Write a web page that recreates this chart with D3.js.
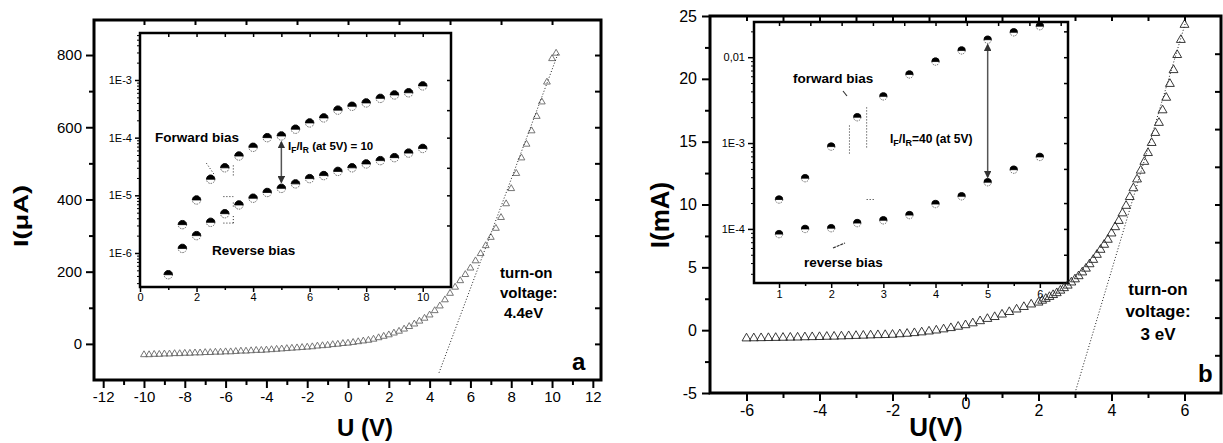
<!DOCTYPE html>
<html>
<head>
<meta charset="utf-8">
<script src="https://cdn.jsdelivr.net/npm/d3@7"></script>
<style>body{margin:0;background:#fff}</style>
</head>
<body>
<script>
const FONT = "'Liberation Sans', Arial, sans-serif";

// ---- panel a: main I-U curve (uA in V, iA in microampere) ----
const uA = [-10, -9.75, -9.5, -9.25, -9, -8.75, -8.5, -8.25, -8, -7.75,
    -7.5, -7.25, -7, -6.75, -6.5, -6.25, -6, -5.75, -5.5, -5.25,
    -5, -4.75, -4.5, -4.25, -4, -3.75, -3.5, -3.25, -3, -2.75,
    -2.5, -2.25, -2, -1.75, -1.5, -1.25, -1, -0.75, -0.5, -0.25,
    0, 0.25, 0.5, 0.75, 1, 1.25, 1.5, 1.75, 2, 2.25,
    2.5, 2.75, 3, 3.25, 3.5, 3.75, 4, 4.25, 4.5, 4.75,
    5, 5.25, 5.5, 5.75, 6, 6.25, 6.5, 6.75, 7, 7.25,
    7.5, 7.75, 8, 8.25, 8.5, 8.75, 9, 9.25, 9.5, 9.75, 10, 10.2];
const iA = [-30, -30, -29, -29, -28, -28, -27, -27, -26, -26,
    -25, -25, -24, -24, -23, -23, -22, -22, -21, -20,
    -20, -19, -18, -18, -17, -16, -15, -14, -13, -12,
    -11, -10, -9, -8, -6, -5, -4, -2, -1, 1,
    2, 4, 6, 8, 10, 13, 17, 21, 25, 30,
    35, 41, 48, 55, 63, 71, 80, 92, 105, 122,
    140, 157, 175, 192, 210, 230, 250, 272, 295, 320,
    350, 388, 430, 472, 515, 553, 590, 630, 670, 725, 790, 805];
const tangentA = [[4.46, -80], [10.3, 805]];

// panel a inset (log current, A)
const insetFwdUA = [1.5, 2, 2.5, 3, 3.5, 4, 4.5, 5, 5.5, 6, 6.5, 7, 7.5, 8, 8.5, 9, 9.5, 10];
const insetFwdIA = [3.1e-6, 8.3e-6, 1.9e-5, 3.0e-5, 4.8e-5, 6.8e-5, 1.0e-4, 1.07e-4, 1.4e-4,
    1.8e-4, 2.2e-4, 3.0e-4, 3.5e-4, 4.0e-4, 4.8e-4, 5.5e-4, 6.0e-4, 7.9e-4];
const insetRevUA = [1, 1.5, 2, 2.5, 3, 3.5, 4, 4.5, 5, 5.5, 6, 6.5, 7, 7.5, 8, 8.5, 9, 9.5, 10];
const insetRevIA = [4.2e-7, 1.2e-6, 2.0e-6, 3.4e-6, 4.8e-6, 6.8e-6, 8.9e-6, 1.12e-5, 1.32e-5,
    1.58e-5, 1.95e-5, 2.2e-5, 2.6e-5, 3.0e-5, 3.5e-5, 4.0e-5, 4.5e-5, 5.4e-5, 6.5e-5];

// ---- panel b: main I-U curve (uB in V, iB in mA) ----
const uB = [-6, -5.8, -5.6, -5.4, -5.2, -5, -4.8, -4.6, -4.4, -4.2,
    -4, -3.8, -3.6, -3.4, -3.2, -3, -2.8, -2.6, -2.4, -2.2,
    -2, -1.8, -1.6, -1.4, -1.2, -1, -0.8, -0.6, -0.4, -0.2,
    0, 0.2, 0.4, 0.6, 0.8, 1, 1.2, 1.4, 1.6, 1.8, 2,
    2.1, 2.2, 2.3, 2.4, 2.5, 2.6, 2.7, 2.8, 2.9, 3,
    3.1, 3.2, 3.3, 3.4, 3.5, 3.6, 3.7, 3.8, 3.9, 4,
    4.1, 4.2, 4.3, 4.4, 4.5, 4.6, 4.7, 4.8, 4.9, 5,
    5.1, 5.2, 5.3, 5.4, 5.5, 5.6, 5.7, 5.8, 5.9, 6];
const iB = [-0.65, -0.64, -0.63, -0.62, -0.61, -0.6, -0.59, -0.58, -0.56, -0.55,
    -0.54, -0.52, -0.51, -0.49, -0.47, -0.45, -0.43, -0.41, -0.39, -0.38,
    -0.36, -0.32, -0.28, -0.23, -0.17, -0.1, -0.02, 0.07, 0.17, 0.28,
    0.4, 0.55, 0.72, 0.9, 1.05, 1.25, 1.45, 1.65, 1.85, 2.05, 2.2,
    2.35, 2.5, 2.65, 2.8, 2.95, 3.15, 3.35, 3.55, 3.8, 4.05,
    4.3, 4.6, 4.9, 5.25, 5.6, 6.0, 6.4, 6.8, 7.2, 7.7,
    8.2, 8.7, 9.3, 9.9, 10.6, 11.3, 12.0, 12.7, 13.4, 14.1,
    14.9, 15.7, 16.5, 17.5, 18.5, 19.6, 20.7, 21.9, 23.1, 24.3];
const tangentB = [[3.0, -5], [6.05, 24.7]];

// panel b inset
const insetUB = [1, 1.5, 2, 2.5, 3, 3.5, 4, 4.5, 5, 5.5, 6];
const insetFwdIB = [2.2e-4, 3.9e-4, 9.1e-4, 2.0e-3, 3.5e-3, 6.3e-3, 8.9e-3, 1.2e-2, 1.6e-2, 1.95e-2, 2.3e-2];
const insetRevIB = [8.7e-5, 1.0e-4, 1.02e-4, 1.17e-4, 1.26e-4, 1.45e-4, 1.95e-4, 2.4e-4, 3.5e-4, 4.9e-4, 6.9e-4];

// tick labels
const yTicksA = [0, 200, 400, 600, 800];
const xTicksA = [-12, -10, -8, -6, -4, -2, 0, 2, 4, 6, 8, 10, 12];
const insetYTicksA = [1e-6, 1e-5, 1e-4, 1e-3];
const insetYLabelsA = ["1E-6", "1E-5", "1E-4", "1E-3"];
const insetXTicksA = [0, 2, 4, 6, 8, 10];
const yTicksB = [-5, 0, 5, 10, 15, 20, 25];
const xTicksB = [-6, -4, -2, 0, 2, 4, 6];
const insetYTicksB = [1e-4, 1e-3, 1e-2];
const insetYLabelsB = ["1E-4", "1E-3", "0,01"];
const insetXTicksB = [1, 2, 3, 4, 5, 6];

const svg = d3.select('body').append('svg')
    .attr('width', 1223)
    .attr('height', 443)
    .attr('font-family', FONT);

svg.append('defs').append('marker')
    .attr('id', 'arr')
    .attr('viewBox', '0 0 6 6')
    .attr('refX', 5).attr('refY', 3)
    .attr('markerWidth', 5).attr('markerHeight', 5)
    .attr('orient', 'auto-start-reverse')
    .append('path')
    .attr('d', 'M0,0L6,3L0,6Z')
    .attr('fill', '#333');

// axis helper: draws ticks only, the frame is a separate rect
function tickLayer(parent, axis, transform, fs, sw) {
    const g = parent.append('g')
        .attr('transform', transform)
        .call(axis);
    g.select('.domain').remove();
    g.attr('font-family', FONT).attr('font-size', fs || 15);
    g.selectAll('.tick line').attr('stroke', '#000').attr('stroke-width', sw || 2);
    g.selectAll('.tick text').attr('fill', '#000');
    return g;
}

function logMinors(lo, hi) {
    const out = [];
    for (let e = lo; e <= hi; e++) {
        for (let m = 2; m <= 9; m++) out.push(m * Math.pow(10, e));
    }
    return out;
}

function halfDots(parent, xs, ys, x, y, r) {
    const g = parent.append('g')
        .selectAll('g')
        .data(d3.zip(xs, ys))
        .join('g')
        .attr('transform', d => `translate(${x(d[0])},${y(d[1])})`);
    g.append('circle')
        .attr('r', r)
        .attr('fill', '#fff')
        .attr('stroke', '#444')
        .attr('stroke-width', 0.8)
        .attr('stroke-dasharray', '1.5,1');
    g.append('path')
        .attr('d', `M${-r},0A${r},${r} 0 0 1 ${r},0Z`)
        .attr('fill', '#000')
        .attr('stroke', '#000')
        .attr('stroke-width', 0.8);
}

function triangles(parent, xs, ys, x, y, size, color) {
    parent.append('g')
        .selectAll('path')
        .data(d3.zip(xs, ys))
        .join('path')
        .attr('d', d3.symbol(d3.symbolTriangle, size))
        .attr('transform', d => `translate(${x(d[0])},${y(d[1])})`)
        .attr('fill', 'none')
        .attr('stroke', color)
        .attr('stroke-width', 0.9);
}

function dotted(parent, pts, x, y) {
    parent.append('path')
        .attr('d', d3.line().x(d => x(d[0])).y(d => y(d[1]))(pts))
        .attr('fill', 'none')
        .attr('stroke', '#222')
        .attr('stroke-width', 1)
        .attr('stroke-dasharray', '1,2');
}

function boldText(parent, x, y, str, fs, anchor) {
    return parent.append('text')
        .attr('x', x).attr('y', y)
        .attr('font-size', fs)
        .attr('font-weight', 'bold')
        .attr('text-anchor', anchor || 'start')
        .text(str);
}

function ratioLabel(parent, x, y, tail, fs) {
    const t = parent.append('text')
        .attr('x', x).attr('y', y)
        .attr('font-size', fs)
        .attr('font-weight', 'bold');
    t.append('tspan').text('I');
    t.append('tspan').attr('dy', 3).attr('font-size', fs - 3).text('F');
    t.append('tspan').attr('dy', -3).text('/I');
    t.append('tspan').attr('dy', 3).attr('font-size', fs - 3).text('R');
    t.append('tspan').attr('dy', -3).text(tail);
}

// ================= panel a =================
const pa = svg.append('g');
const xA = d3.scaleLinear().domain([-12.45, 12.4]).range([94, 601]);
const yA = d3.scaleLinear().domain([-100, 897]).range([380, 20]);

tickLayer(pa, d3.axisLeft(yA).tickValues(yTicksA).tickSize(8).tickPadding(4).tickFormat(d => String(d)), 'translate(94,0)');
tickLayer(pa, d3.axisLeft(yA).tickValues([100, 300, 500, 700]).tickSize(5).tickFormat(''), 'translate(94,0)');
tickLayer(pa, d3.axisBottom(xA).tickValues(xTicksA).tickSize(8).tickPadding(3).tickFormat(d => String(d)), 'translate(0,380)');
tickLayer(pa, d3.axisBottom(xA).tickValues([-11, -9, -7, -5, -3, -1, 1, 3, 5, 7, 9, 11]).tickSize(5).tickFormat(''), 'translate(0,380)');
tickLayer(pa, d3.axisTop(xA).tickValues(d3.range(-10, 10.1, 2.5)).tickSize(-5).tickFormat(''), 'translate(0,20)');
tickLayer(pa, d3.axisRight(yA).tickValues(d3.range(0, 801, 100)).tickSize(-6).tickFormat(''), 'translate(601,0)');

// inset a
const ia = pa.append('g');
const xAi = d3.scaleLinear().domain([0, 11]).range([140, 451]);
const yAi = d3.scaleLog().domain([Math.pow(10, -6.59), Math.pow(10, -2.185)]).range([287, 33]);
ia.append('rect').attr('x', 140).attr('y', 33).attr('width', 311).attr('height', 254).attr('fill', '#fff');
tickLayer(ia, d3.axisLeft(yAi).tickValues(insetYTicksA).tickSize(5).tickPadding(3)
    .tickFormat((d, i) => insetYLabelsA[i]), 'translate(140,0)', 11, 1.5);
tickLayer(ia, d3.axisLeft(yAi).tickValues(logMinors(-7, -3).filter(v => v > yAi.domain()[0] && v < yAi.domain()[1]))
    .tickSize(3).tickFormat(''), 'translate(140,0)', 11, 1);
tickLayer(ia, d3.axisBottom(xAi).tickValues(insetXTicksA).tickSize(5).tickPadding(1).tickFormat(d => String(d)), 'translate(0,287)', 11, 1.5);
tickLayer(ia, d3.axisBottom(xAi).tickValues([1, 3, 5, 7, 9]).tickSize(3).tickFormat(''), 'translate(0,287)', 11, 1.5);
tickLayer(ia, d3.axisTop(xAi).tickValues(d3.range(1, 11, 1)).tickSize(-4).tickFormat(''), 'translate(0,33)', 11, 1.5);
tickLayer(ia, d3.axisRight(yAi).tickValues([3e-6, 1e-5, 3e-5, 1e-4, 3e-4, 1e-3]).tickSize(-4).tickFormat(''), 'translate(451,0)', 11, 1.5);

halfDots(ia, insetFwdUA, insetFwdIA, xAi, yAi, 4.2);
halfDots(ia, insetRevUA, insetRevIA, xAi, yAi, 4.2);

// ratio arrow at 5 V
ia.append('line')
    .attr('x1', xAi(5)).attr('x2', xAi(5))
    .attr('y1', yAi(1.07e-4) + 6).attr('y2', yAi(1.32e-5) - 6)
    .attr('stroke', '#555').attr('stroke-width', 1.5)
    .attr('marker-start', 'url(#arr)').attr('marker-end', 'url(#arr)');
ratioLabel(ia, 288, 150, ' (at 5V) = 10', 11.5);
boldText(ia, 155, 142, 'Forward bias', 13.5);
boldText(ia, 212, 255, 'Reverse bias', 13.5);
// little pointers and dotted guides
dotted(ia, [[2.35, 3.6e-5], [2.65, 2.2e-5]], xAi, yAi);
dotted(ia, [[3.3, 3.3e-5], [3.3, 2.2e-5]], xAi, yAi);
dotted(ia, [[2.95, 9.5e-6], [3.3, 9.5e-6]], xAi, yAi);
dotted(ia, [[2.95, 3.3e-6], [3.3, 3.3e-6]], xAi, yAi);
dotted(ia, [[3.3, 3.3e-6], [3.3, 4.6e-6]], xAi, yAi);
dotted(ia, [[3.3, 7.5e-6], [3.3, 6.1e-6]], xAi, yAi);
ia.append('rect').attr('x', 140).attr('y', 33).attr('width', 311).attr('height', 254)
    .attr('fill', 'none').attr('stroke', '#000').attr('stroke-width', 2.5);

// main curve a
triangles(pa, uA, iA, xA, yA, 20, '#666');
dotted(pa, tangentA, xA, yA);
pa.append('rect').attr('x', 94).attr('y', 20).attr('width', 507).attr('height', 360)
    .attr('fill', 'none').attr('stroke', '#000').attr('stroke-width', 3);

boldText(pa, 500, 278, 'turn-on', 15);
boldText(pa, 500, 298, 'voltage:', 15);
boldText(pa, 504, 318, '4.4eV', 15);
boldText(pa, 572, 370, 'a', 24);
boldText(pa, 0, 0, 'U (V)', 24, 'middle').attr('transform', 'translate(365,436)');
boldText(pa, 0, 0, 'I(\u03bcA)', 20, 'middle')
    .attr('textLength', 62).attr('lengthAdjust', 'spacingAndGlyphs')
    .attr('transform', 'translate(28,216) rotate(-90)');

// ================= panel b =================
const pb = svg.append('g');
const xB = d3.scaleLinear().domain([-7, 7]).range([710, 1221]);
const yB = d3.scaleLinear().domain([-5, 25]).range([393, 16]);

tickLayer(pb, d3.axisLeft(yB).tickValues(yTicksB).tickSize(8).tickPadding(5).tickFormat(d => String(d)), 'translate(710,0)', 16);
tickLayer(pb, d3.axisLeft(yB).tickValues([-2.5, 2.5, 7.5, 12.5, 17.5, 22.5]).tickSize(5).tickFormat(''), 'translate(710,0)');
const bx = tickLayer(pb, d3.axisBottom(xB).tickValues(xTicksB).tickSize(8).tickPadding(4).tickFormat(d => String(d)), 'translate(0,393)', 16);
bx.selectAll('.tick text').filter(d => d === 0).attr('y', 5);
tickLayer(pb, d3.axisBottom(xB).tickValues([-5, -3, -1, 1, 3, 5]).tickSize(5).tickFormat(''), 'translate(0,393)');
tickLayer(pb, d3.axisTop(xB).tickValues(d3.range(-6, 7, 1)).tickSize(-5).tickFormat(''), 'translate(0,16)');
tickLayer(pb, d3.axisRight(yB).tickValues(d3.range(-2, 25, 3)).tickSize(-6).tickFormat(''), 'translate(1221,0)');

// inset b
const ib = pb.append('g');
const xBi = d3.scaleLinear().domain([0.52, 6.54]).range([754, 1068]);
const yBi = d3.scaleLog().domain([Math.pow(10, -4.63), Math.pow(10, -1.59)]).range([283, 22]);
ib.append('rect').attr('x', 754).attr('y', 22).attr('width', 314).attr('height', 261).attr('fill', '#fff');
tickLayer(ib, d3.axisLeft(yBi).tickValues(insetYTicksB).tickSize(6).tickPadding(3)
    .tickFormat((d, i) => insetYLabelsB[i]), 'translate(754,0)', 11, 1.5);
tickLayer(ib, d3.axisLeft(yBi).tickValues(logMinors(-5, -2).filter(v => v > yBi.domain()[0] && v < yBi.domain()[1]))
    .tickSize(3).tickFormat(''), 'translate(754,0)', 11, 1);
tickLayer(ib, d3.axisBottom(xBi).tickValues(insetXTicksB).tickSize(5).tickPadding(2).tickFormat(d => String(d)), 'translate(0,283)', 11, 1.5);
tickLayer(ib, d3.axisBottom(xBi).tickValues([1.5, 2.5, 3.5, 4.5, 5.5]).tickSize(3).tickFormat(''), 'translate(0,283)', 11, 1.5);
tickLayer(ib, d3.axisTop(xBi).tickValues(d3.range(1, 6.6, 0.6)).tickSize(-4).tickFormat(''), 'translate(0,22)', 11, 1.5);
tickLayer(ib, d3.axisRight(yBi).tickValues([5e-5, 1e-4, 2e-4, 5e-4, 1e-3, 2e-3, 5e-3, 1e-2, 2e-2]).tickSize(-4).tickFormat(''), 'translate(1068,0)', 11, 1.5);

halfDots(ib, insetUB, insetFwdIB, xBi, yBi, 3.7);
halfDots(ib, insetUB, insetRevIB, xBi, yBi, 3.7);

ib.append('line')
    .attr('x1', xBi(5)).attr('x2', xBi(5))
    .attr('y1', yBi(1.6e-2) + 5).attr('y2', yBi(3.5e-4) - 5)
    .attr('stroke', '#555').attr('stroke-width', 1.5)
    .attr('marker-start', 'url(#arr)').attr('marker-end', 'url(#arr)');
ratioLabel(ib, 890, 143, '=40 (at 5V)', 12);
boldText(ib, 793, 83, 'forward bias', 13.5);
boldText(ib, 804, 267, 'reverse bias', 13.5);
dotted(ib, [[2.35, 1.6e-3], [2.35, 7.5e-4]], xBi, yBi);
dotted(ib, [[2.68, 2.6e-3], [2.68, 8.5e-4]], xBi, yBi);
dotted(ib, [[2.68, 2.2e-4], [2.82, 2.2e-4]], xBi, yBi);
ib.append('line').attr('x1', 843).attr('y1', 91).attr('x2', 847).attr('y2', 96)
    .attr('stroke', '#333').attr('stroke-width', 1.2);
ib.append('line').attr('x1', 833).attr('y1', 248).attr('x2', 845).attr('y2', 243)
    .attr('stroke', '#333').attr('stroke-width', 1.2).attr('stroke-dasharray', '3,1');
ib.append('rect').attr('x', 754).attr('y', 22).attr('width', 314).attr('height', 261)
    .attr('fill', 'none').attr('stroke', '#000').attr('stroke-width', 2.5);

// main curve b
triangles(pb, uB, iB, xB, yB, 34, '#222');
dotted(pb, tangentB, xB, yB);
pb.append('rect').attr('x', 710).attr('y', 16).attr('width', 511).attr('height', 377)
    .attr('fill', 'none').attr('stroke', '#000').attr('stroke-width', 3);

boldText(pb, 1158, 295, 'turn-on', 17, 'middle');
boldText(pb, 1158, 317, 'voltage:', 17, 'middle');
boldText(pb, 1158, 340, '3 eV', 17, 'middle');
boldText(pb, 1198, 382, 'b', 24);
boldText(pb, 0, 0, 'U(V)', 26, 'middle').attr('transform', 'translate(936,436)');
boldText(pb, 0, 0, 'I(mA)', 26, 'middle').attr('transform', 'translate(669,215) rotate(-90)');
</script>
</body>
</html>
